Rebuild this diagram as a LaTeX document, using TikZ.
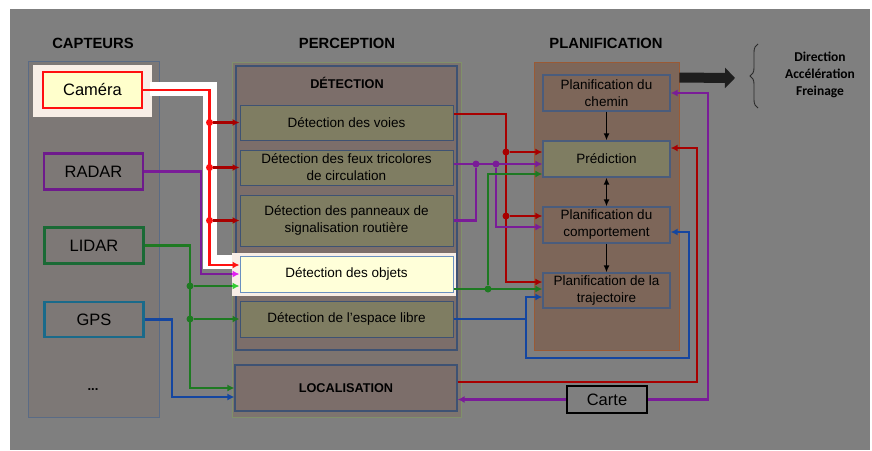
\documentclass[tikz,border=0pt]{standalone}
\usepackage{fontspec}
\setmainfont{Liberation Sans}
\newfontfamily\cmdfont{Carlito}
\usetikzlibrary{arrows.meta,decorations.pathreplacing}

\definecolor{bg}{HTML}{7F7F7F}
\definecolor{captfill}{HTML}{7D7876}
\definecolor{captline}{HTML}{5A6B85}
\definecolor{percfill}{HTML}{7D746F}
\definecolor{percline}{HTML}{80906A}
\definecolor{detfill}{HTML}{7C6E6A}
\definecolor{boxline}{HTML}{3E5273}
\definecolor{olivebox}{HTML}{7F7D62}
\definecolor{planfill}{HTML}{7D6659}
\definecolor{planedge}{HTML}{9A5A35}
\definecolor{planline}{HTML}{4A5C7C}
\definecolor{halo}{HTML}{F8EEE6}
\definecolor{camfill}{HTML}{FFFFCC}
\definecolor{objfill}{HTML}{FFFFD9}
\definecolor{objline}{HTML}{6A90C0}
\definecolor{rouge}{HTML}{FF1010}
\definecolor{rougef}{HTML}{A80000}
\definecolor{violetf}{HTML}{7A1C98}
\definecolor{violetc}{HTML}{E020F0}
\definecolor{vertf}{HTML}{1E7A22}
\definecolor{vertc}{HTML}{33CC33}
\definecolor{bleuf}{HTML}{1446A0}
\definecolor{radarc}{HTML}{6E1A8C}
\definecolor{lidarc}{HTML}{1A6A35}
\definecolor{gpsc}{HTML}{1A6A8A}
\definecolor{noir}{HTML}{1E1E1E}
\definecolor{bracec}{HTML}{2A2A2A}

\begin{document}
\begin{tikzpicture}[x=1pt,y=-1pt,
  panel/.style={draw, line width=0.9pt, inner sep=0pt},
  detbox/.style={draw=boxline, fill=olivebox, line width=1pt, minimum width=213pt, inner sep=0pt, align=center, font=\fontsize{13.5}{17}\selectfont},
  planbox/.style={draw=planline, fill=planfill, line width=1.3pt, minimum width=127pt, minimum height=36pt, inner sep=0pt, align=center, font=\fontsize{13.5}{17}\selectfont},
  sensor/.style={line width=2.6pt, fill=captfill, minimum width=99pt, minimum height=36pt, inner sep=0pt, font=\fontsize{16.5}{19}\selectfont},
  title/.style={font=\bfseries\fontsize{14.8}{17}\selectfont},
  wire/.style={line width=2.2pt},
  arr/.style={wire, -{Latex[length=7pt,width=7pt]}},
  jdot/.style={circle, inner sep=0pt, minimum size=7pt}]
\fill[white] (0,0) rectangle (872,450);
\fill[bg] (10,9) rectangle (870,450);

\node[panel, draw=captline, fill=captfill, minimum width=131pt, minimum height=356pt] (capt) at (93.5,239) {};
\node[panel, draw=percline, fill=percfill, minimum width=229pt, minimum height=355pt] (perc) at (346.5,239.5) {};
\node[panel, draw=boxline, line width=1.2pt, fill=detfill, minimum width=221pt, minimum height=284pt] (det) at (346.5,208) {};
\node[panel, draw=planedge, fill=planfill, minimum width=145pt, minimum height=288pt] (plan) at (606.5,206) {};
\node[title] (tcapt) at (93,43) {CAPTEURS};
\node[title] (tperc) at (347,43) {PERCEPTION};
\node[title] (tplan) at (606,43) {PLANIFICATION};
\node[font=\bfseries\fontsize{12.7}{15}\selectfont] (tdet) at (347,83) {DÉTECTION};

\fill[halo] (33,65) rectangle (152,117);
\fill[halo] (232,253) rectangle (456,296);
\draw[white, line width=14pt] (150,89) -| (209.5,262) -- (232,262);

\node[sensor, draw=rouge, fill=camfill] (cam) at (92.5,90) {Caméra};
\node[sensor, draw=radarc] (radar) at (93.5,171.5) {RADAR};
\node[sensor, draw=lidarc] (lidar) at (94,245.5) {LIDAR};
\node[sensor, draw=gpsc, minimum height=35pt] (gps) at (94,319.5) {GPS};
\node[font=\bfseries\fontsize{13}{15}\selectfont] (more) at (93,390) {...};

\foreach \nm/\y/\h/\txt in {voies/122.5/35/Détection des voies,
    feux/167.5/35/{Détection des feux tricolores\\de circulation},
    pann/220.5/51/{Détection des panneaux de\\signalisation routière},
    libre/319/36/Détection de l’espace libre}
  \node[detbox, minimum height=\h pt] (\nm) at (346.5,\y) {\txt};
\node[detbox, draw=objline, fill=objfill, minimum height=36pt] (objets) at (346.5,274) {Détection des objets};
\node[draw=boxline, fill=detfill, line width=1.2pt, minimum width=222pt, minimum height=46pt, inner sep=0pt, font=\bfseries\fontsize{12.7}{15}\selectfont] (loc) at (346,388) {LOCALISATION};

\node[planbox] (chemin) at (606.5,93) {Planification du\\chemin};
\node[planbox, fill=olivebox] (pred) at (606.5,159) {Prédiction};
\node[planbox] (comp) at (606.5,225) {Planification du\\comportement};
\node[planbox, minimum height=35pt] (traj) at (606.5,290.5) {Planification de la\\trajectoire};
\node[draw=black, line width=2pt, minimum width=80pt, minimum height=27pt, inner sep=0pt, font=\fontsize{16.5}{19}\selectfont] (carte) at (607,399.5) {Carte};

\draw[line width=1.4pt, -{Latex[length=7pt,width=6pt]}] (chemin) -- (pred);
\draw[line width=1.4pt, {Latex[length=7pt,width=6pt]}-{Latex[length=7pt,width=6pt]}] (pred) -- (comp);
\draw[line width=1.4pt, -{Latex[length=7pt,width=6pt]}] (comp) -- (traj);

\coordinate (ba) at ([yshift=-16pt]plan.north east);
\coordinate (tip) at (735,78);
\draw[noir, line width=10pt, -{Triangle[length=10pt,width=20pt]}] (ba) -- (tip);
\coordinate (br1) at (758,108);
\coordinate (br2) at (758,44);
\draw[bracec, line width=0.9pt, decorate, decoration={brace, amplitude=8pt}] (br1) -- (br2);
\node[align=center, font=\cmdfont\bfseries\fontsize{13.5}{17}\selectfont] (cmd) at (820,75) {Direction\\Accélération\\Freinage};

% capteurs -> perception
\coordinate (busr) at (209.5,0);
\coordinate (busv) at (201,0);
\coordinate (busg) at (190,0);
\coordinate (busb) at (172,0);
\coordinate (hl) at (232,0);
\coordinate (or) at ([yshift=9pt]objets.west);
\coordinate (og) at ([yshift=-12pt]objets.west);
\coordinate (lb) at ([yshift=-9pt]loc.west);
\draw[arr, rouge] (cam.east) -| (busr |- or) -- (or);
\foreach \nm in {voies,feux,pann} {
  \node[jdot, fill=rouge] (r\nm) at (busr |- \nm.west) {};
  \draw[arr, rougef] (r\nm) -- (\nm.west);
}
\draw[wire, violetf] (radar.east) -| (busv |- objets.west) -- (hl |- objets.west);
\draw[arr, violetc] (hl |- objets.west) -- (objets.west);
\draw[arr, vertf] (lidar.east) -| (busg |- loc.west) -- (loc.west);
\node[jdot, fill=vertf] (g1) at (busg |- og) {};
\node[jdot, fill=vertf] (g2) at (busg |- libre.west) {};
\draw[wire, vertf] (g1) -- (hl |- og);
\draw[arr, vertc] (hl |- og) -- (og);
\draw[arr, vertf] (g2) -- (libre.west);
\draw[arr, bleuf] (gps.east) -| (busb |- lb) -- (lb);

% perception -> planification
\coordinate (busR) at (506,0);
\coordinate (busP1) at (476,0);
\coordinate (busP2) at (496,0);
\coordinate (busG) at (488,0);
\coordinate (busB) at (526,0);
\coordinate (busB2) at (689,0);
\coordinate (busRR) at (697,0);
\coordinate (busPP) at (708,0);
\coordinate (yb) at (0,358);
\coordinate (vo) at ([yshift=8.5pt]voies.east);
\coordinate (tr) at ([yshift=8.5pt]traj.west);
\coordinate (pr) at ([yshift=7pt]pred.west);
\coordinate (cr) at ([yshift=9pt]comp.west);
\coordinate (fv) at ([yshift=3.5pt]feux.east);
\coordinate (cv) at ([yshift=-2pt]comp.west);
\coordinate (og2) at ([yshift=-15pt]objets.east);
\coordinate (pg) at ([yshift=-15pt]pred.west);
\coordinate (tb) at ([yshift=-6.5pt]traj.west);
\coordinate (ce) at ([yshift=-7pt]comp.east);
\coordinate (lr) at ([yshift=6pt]loc.east);
\coordinate (pe) at ([yshift=11pt]pred.east);
\draw[arr, rougef] (vo) -| (busR |- tr) -- (tr);
\node[jdot, fill=rougef] (R1) at (busR |- pr) {};
\node[jdot, fill=rougef] (R2) at (busR |- cr) {};
\draw[arr, rougef] (R1) -- (pr);
\draw[arr, rougef] (R2) -- (cr);
\draw[arr, violetf] (fv) -- (pred.west |- fv);
\node[jdot, fill=violetf] (P1) at (busP1 |- fv) {};
\node[jdot, fill=violetf] (P2) at (busP2 |- fv) {};
\draw[wire, violetf] (P1) |- (pann.east);
\draw[arr, violetf] (P2) |- (cv);
\draw[arr, vertf] (og2) -- (traj.west |- og2);
\node[jdot, fill=vertf] (G1) at (busG |- og2) {};
\draw[arr, vertf] (G1) |- (pg);
\draw[arr, bleuf] (libre.east) -| (busB |- tb) -- (tb);
\draw[arr, bleuf] (busB |- libre.east) -- (busB |- yb) -| (busB2 |- ce) -- (ce);
\draw[arr, rougef] (lr) -| (busRR |- pe) -- (pe);
\draw[arr, violetf] (carte.east) -| (busPP |- chemin.east) -- (chemin.east);
\draw[arr, violetf] (carte.west) -- (loc.east |- carte.west);
\end{tikzpicture}
\end{document}
